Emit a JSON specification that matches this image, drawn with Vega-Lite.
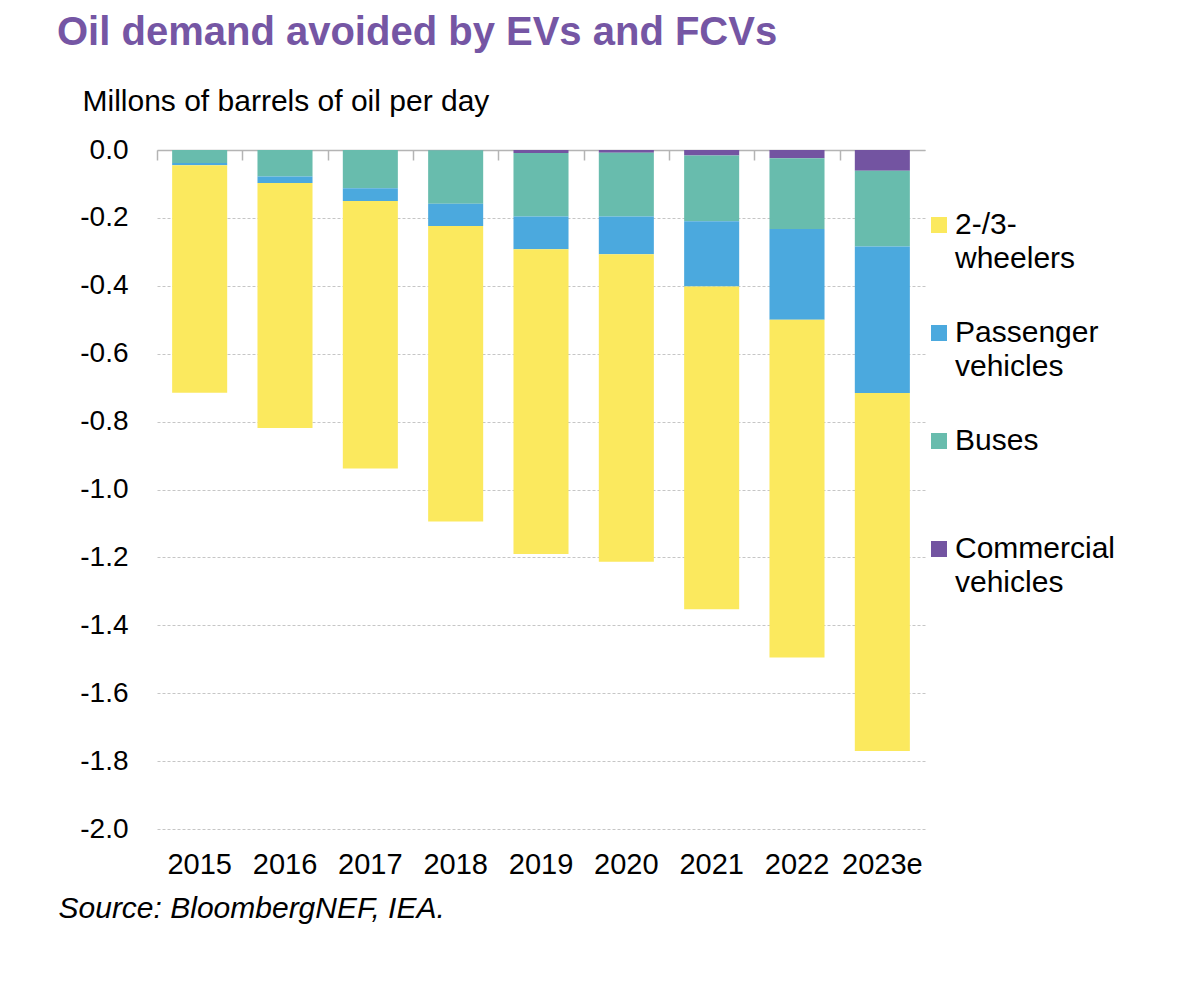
{
  "$schema": "https://vega.github.io/schema/vega-lite/v6.json",
  "autosize": {"type": "none"},
  "padding": {"left": 157, "top": 150, "right": 253, "bottom": 157},
  "width": 768,
  "height": 679,
  "background": "white",
  "config": {
    "font": "Liberation Sans",
    "view": {"stroke": null}
  },
  "title": {
    "text": "Oil demand avoided by EVs and FCVs",
    "anchor": "start",
    "frame": "group",
    "dx": -100,
    "offset": 1,
    "baseline": "alphabetic",
    "fontSize": 40,
    "fontWeight": "bold",
    "color": "#7556A4"
  },
  "data": {
    "values": [
      {"year": "2015", "type": "Commercial vehicles", "value": 0, "order": 1},
      {"year": "2015", "type": "Buses", "value": -0.038, "order": 2},
      {"year": "2015", "type": "Passenger vehicles", "value": -0.007, "order": 3},
      {"year": "2015", "type": "2-/3-wheelers", "value": -0.670, "order": 4},
      {"year": "2016", "type": "Commercial vehicles", "value": 0, "order": 1},
      {"year": "2016", "type": "Buses", "value": -0.078, "order": 2},
      {"year": "2016", "type": "Passenger vehicles", "value": -0.019, "order": 3},
      {"year": "2016", "type": "2-/3-wheelers", "value": -0.722, "order": 4},
      {"year": "2017", "type": "Commercial vehicles", "value": 0, "order": 1},
      {"year": "2017", "type": "Buses", "value": -0.113, "order": 2},
      {"year": "2017", "type": "Passenger vehicles", "value": -0.037, "order": 3},
      {"year": "2017", "type": "2-/3-wheelers", "value": -0.788, "order": 4},
      {"year": "2018", "type": "Commercial vehicles", "value": -0.001, "order": 1},
      {"year": "2018", "type": "Buses", "value": -0.157, "order": 2},
      {"year": "2018", "type": "Passenger vehicles", "value": -0.066, "order": 3},
      {"year": "2018", "type": "2-/3-wheelers", "value": -0.870, "order": 4},
      {"year": "2019", "type": "Commercial vehicles", "value": -0.009, "order": 1},
      {"year": "2019", "type": "Buses", "value": -0.187, "order": 2},
      {"year": "2019", "type": "Passenger vehicles", "value": -0.096, "order": 3},
      {"year": "2019", "type": "2-/3-wheelers", "value": -0.898, "order": 4},
      {"year": "2020", "type": "Commercial vehicles", "value": -0.008, "order": 1},
      {"year": "2020", "type": "Buses", "value": -0.188, "order": 2},
      {"year": "2020", "type": "Passenger vehicles", "value": -0.111, "order": 3},
      {"year": "2020", "type": "2-/3-wheelers", "value": -0.906, "order": 4},
      {"year": "2021", "type": "Commercial vehicles", "value": -0.016, "order": 1},
      {"year": "2021", "type": "Buses", "value": -0.194, "order": 2},
      {"year": "2021", "type": "Passenger vehicles", "value": -0.192, "order": 3},
      {"year": "2021", "type": "2-/3-wheelers", "value": -0.951, "order": 4},
      {"year": "2022", "type": "Commercial vehicles", "value": -0.024, "order": 1},
      {"year": "2022", "type": "Buses", "value": -0.209, "order": 2},
      {"year": "2022", "type": "Passenger vehicles", "value": -0.267, "order": 3},
      {"year": "2022", "type": "2-/3-wheelers", "value": -0.995, "order": 4},
      {"year": "2023e", "type": "Commercial vehicles", "value": -0.061, "order": 1},
      {"year": "2023e", "type": "Buses", "value": -0.223, "order": 2},
      {"year": "2023e", "type": "Passenger vehicles", "value": -0.432, "order": 3},
      {"year": "2023e", "type": "2-/3-wheelers", "value": -1.054, "order": 4}
    ]
  },
  "encoding": {
    "x": {
      "field": "year",
      "type": "nominal",
      "sort": null,
      "scale": {"paddingInner": 0.355, "paddingOuter": 0.1775}
    },
    "y": {
      "field": "value",
      "type": "quantitative",
      "stack": "zero",
      "scale": {"domain": [-2, 0], "nice": false, "zero": false},
      "axis": {
        "values": [0, -0.2, -0.4, -0.6, -0.8, -1, -1.2, -1.4, -1.6, -1.8, -2],
        "labelExpr": "(datum.value < 0 ? '-' : '') + format(abs(datum.value), '.1f')",
        "domain": false,
        "ticks": false,
        "grid": true,
        "gridColor": "#c6c6c6",
        "gridDash": [3, 2],
        "gridWidth": 1,
        "labelFontSize": 28,
        "labelColor": "#000000",
        "labelPadding": 29,
        "title": "Millons of barrels of oil per day",
        "titleFontSize": 30,
        "titleFontWeight": "normal",
        "titleColor": "#000000",
        "titleAngle": 0,
        "titleAlign": "left",
        "titleBaseline": "alphabetic",
        "titleX": -75,
        "titleY": -40
      }
    },
    "order": {"field": "order", "type": "quantitative", "sort": "ascending"}
  },
  "layer": [
    {
      "mark": {"type": "bar"},
      "encoding": {
        "x": {
          "field": "year",
          "type": "nominal",
          "sort": null,
          "axis": {
            "orient": "bottom",
            "domain": false,
            "ticks": false,
            "labelAngle": 0,
            "labelFontSize": 29,
            "labelColor": "#000000",
            "labelPadding": 21,
            "title": "Source: BloombergNEF, IEA.",
            "titleFontSize": 30,
            "titleFontStyle": "italic",
            "titleFontWeight": "normal",
            "titleColor": "#000000",
            "titleAlign": "left",
            "titleBaseline": "alphabetic",
            "titleX": -99,
            "titleY": 88
          }
        },
        "color": {
          "field": "type",
          "type": "nominal",
          "scale": {
            "domain": ["2-/3-wheelers", "Passenger vehicles", "Buses", "Commercial vehicles"],
            "range": ["#FBE95E", "#4BA9DE", "#68BCAD", "#7354A1"]
          },
          "legend": {
            "orient": "none",
            "legendX": 767,
            "legendY": 60,
            "padding": 0,
            "title": null,
            "symbolType": "square",
            "symbolSize": 256,
            "symbolStrokeWidth": 0,
            "labelFontSize": 30,
            "labelColor": "#000000",
            "labelOffset": 1,
            "labelLimit": 300,
            "labelBaseline": "middle",
            "rowPadding": 44,
            "labelExpr": "datum.label == 'Buses' ? ['Buses', ''] : datum.label == '2-/3-wheelers' ? ['2-/3-', 'wheelers'] : split(datum.label, ' ')",
            "encode": {
              "labels": {"update": {"lineHeight": {"value": 34}}}
            }
          }
        }
      }
    },
    {
      "mark": {"type": "bar", "opacity": 0},
      "encoding": {
        "x": {
          "field": "year",
          "type": "nominal",
          "sort": null,
          "axis": {
            "orient": "top",
            "labels": false,
            "title": null,
            "domain": true,
            "domainColor": "#b4b4b4",
            "domainWidth": 1.5,
            "ticks": true,
            "tickColor": "#b4b4b4",
            "tickWidth": 1.5,
            "tickSize": -10,
            "bandPosition": 0,
            "tickOffset": -15
          }
        }
      }
    }
  ],
  "resolve": {"axis": {"x": "independent"}}
}
